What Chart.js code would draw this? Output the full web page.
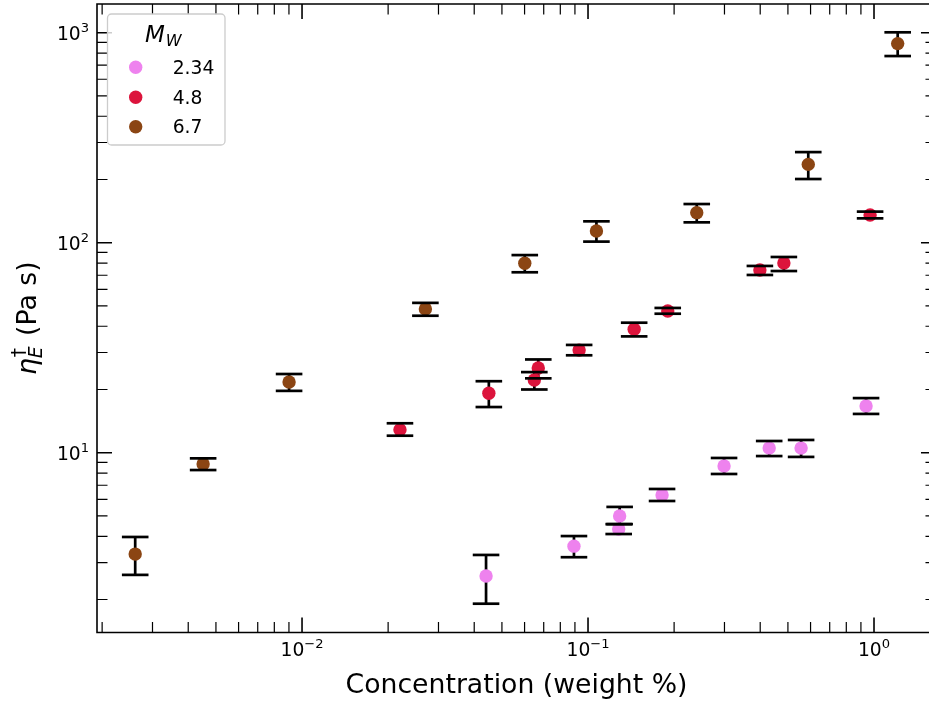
<!DOCTYPE html>
<html><head><meta charset="utf-8">
<script src="https://cdn.jsdelivr.net/npm/chart.js@4.4.1/dist/chart.umd.min.js"></script>
<style>html,body{margin:0;padding:0;overflow:hidden;background:#fff}canvas{display:block}</style>
</head><body><canvas id="c" width="929" height="702"></canvas>
<script>
// ---- data ----
const seriesLabels = ['2.34', '4.8', '6.7'];
const seriesColors = ['#ee82ee', '#dc143c', '#8b4513'];

// Mw = 2.34
const conc234 = [0.0440, 0.0893, 0.129, 0.128, 0.1815, 0.299, 0.430, 0.556, 0.938];
const visc234 = [2.59, 3.59, 5.00, 4.33, 6.29, 8.64, 10.52, 10.52, 16.7];
const lo234   = [1.91, 3.18, 4.57, 4.10, 5.89, 7.92, 9.64, 9.55, 15.3];
const hi234   = [3.26, 4.01, 5.52, 4.57, 6.72, 9.44, 11.37, 11.5, 18.2];

// Mw = 4.8
const conc48 = [0.0220, 0.0450, 0.0649, 0.0670, 0.0931, 0.145, 0.190, 0.399, 0.484, 0.969];
const visc48 = [12.87, 19.19, 22.2, 25.3, 30.8, 38.7, 47.3, 74.1, 80.0, 135.5];
const lo48   = [12.05, 16.5, 20.0, 22.6, 29.1, 35.8, 45.9, 70.2, 73.3, 130.6];
const hi48   = [13.81, 21.9, 24.2, 27.8, 32.6, 41.6, 48.9, 77.5, 85.5, 140.6];

// Mw = 6.7
const conc67 = [0.00261, 0.00451, 0.00901, 0.0270, 0.0601, 0.107, 0.240, 0.589, 1.21];
const visc67 = [3.29, 8.83, 21.7, 48.3, 79.8, 113.7, 139, 236, 887];
const lo67   = [2.62, 8.27, 19.7, 44.9, 72.3, 101.2, 125, 201, 774];
const hi67   = [3.97, 9.40, 23.7, 51.7, 87.3, 126.4, 152.8, 270, 1004];

// axis ticks / limits
const xTickExponents = [-2, -1, 0];
const yTickExponents = [1, 2, 3];
const xLimits = [0.001919, 1.557];   // visible part (figure is cropped on the right)
const xAxisEnd = 1.647;              // where the (cropped) right spine sits
const yLimits = [1.393, 1369.5];

const xTitle = 'Concentration (weight %)';

// ---- chart ----
function pts(xs, ys) { return xs.map((x, i) => ({ x: x, y: ys[i] })); }
const groups = [
  { x: conc234, y: visc234, lo: lo234, hi: hi234 },
  { x: conc48, y: visc48, lo: lo48, hi: hi48 },
  { x: conc67, y: visc67, lo: lo67, hi: hi67 }
];
const datasets = groups.map((g, i) => ({
  label: seriesLabels[i],
  data: pts(g.x, g.y),
  errLow: g.lo, errHigh: g.hi,
  pointRadius: 6.7, pointHoverRadius: 6.7,
  pointBackgroundColor: seriesColors[i], pointBorderWidth: 0,
  borderColor: seriesColors[i], showLine: false
}));

const FONT = '"DejaVu Sans", sans-serif';
const TICK_FS = 18.7, LABEL_FS = 26.7;

function drawPow(ctx, exp, x, y, align) {
  const base = '10';
  const e = exp < 0 ? '\u2212' + Math.abs(exp) : String(exp);
  ctx.font = TICK_FS + 'px ' + FONT;
  const wb = ctx.measureText(base).width;
  ctx.font = (TICK_FS * 0.7) + 'px ' + FONT;
  const we = ctx.measureText(e).width;
  const total = wb + we;
  let sx = align === 'right' ? x - total : x - total / 2;
  ctx.textAlign = 'left'; ctx.textBaseline = 'alphabetic';
  ctx.font = TICK_FS + 'px ' + FONT;
  ctx.fillText(base, sx, y);
  ctx.font = (TICK_FS * 0.7) + 'px ' + FONT;
  ctx.fillText(e, sx + wb, y - 8);
}

const errPlugin = {
  id: 'errbars',
  beforeDatasetsDraw(chart) {
    const ctx = chart.ctx, xs = chart.scales.x, ys = chart.scales.y;
    ctx.save();
    ctx.strokeStyle = '#000'; ctx.lineWidth = 2.7; ctx.lineCap = 'butt';
    chart.data.datasets.forEach(ds => {
      ds.data.forEach((p, i) => {
        const px = xs.getPixelForValue(p.x);
        ctx.beginPath();
        ctx.moveTo(px, ys.getPixelForValue(ds.errLow[i]));
        ctx.lineTo(px, ys.getPixelForValue(ds.errHigh[i]));
        ctx.stroke();
      });
    });
    ctx.restore();
  },
  afterDatasetsDraw(chart) {
    const ctx = chart.ctx, xs = chart.scales.x, ys = chart.scales.y;
    ctx.save();
    ctx.strokeStyle = '#000'; ctx.lineWidth = 2.7;
    chart.data.datasets.forEach(ds => {
      ds.data.forEach((p, i) => {
        const px = xs.getPixelForValue(p.x);
        [ds.errLow[i], ds.errHigh[i]].forEach(v => {
          const py = ys.getPixelForValue(v);
          ctx.beginPath(); ctx.moveTo(px - 13.3, py); ctx.lineTo(px + 13.3, py); ctx.stroke();
        });
      });
    });
    ctx.restore();
  },
  afterDraw(chart) {
    const ctx = chart.ctx, xs = chart.scales.x, ys = chart.scales.y, a = chart.chartArea;
    const rightEdge = xs.getPixelForValue(xAxisEnd);
    ctx.save();
    // spines (right spine lies outside the cropped picture)
    ctx.strokeStyle = '#000'; ctx.lineWidth = 1.6;
    ctx.beginPath();
    ctx.moveTo(rightEdge, a.top); ctx.lineTo(a.left, a.top); ctx.lineTo(a.left, a.bottom); ctx.lineTo(rightEdge, a.bottom);
    ctx.lineTo(rightEdge, a.top);
    ctx.stroke();
    // ticks
    function ticks(scale, isX, vmin, vmax) {
      const lo = Math.floor(Math.log10(vmin)), hi = Math.ceil(Math.log10(vmax));
      for (let d = lo; d <= hi; d++) {
        for (let m = 1; m <= 9; m++) {
          const v = m * Math.pow(10, d);
          if (v < vmin || v > vmax) continue;
          const major = m === 1;
          const len = major ? 15 : 10.5;
          ctx.lineWidth = major ? 1.6 : 1.2;
          const p = scale.getPixelForValue(v);
          ctx.beginPath();
          if (isX) {
            ctx.moveTo(p, a.bottom); ctx.lineTo(p, a.bottom - len);
            ctx.moveTo(p, a.top); ctx.lineTo(p, a.top + len);
          } else {
            ctx.moveTo(a.left, p); ctx.lineTo(a.left + len, p);
            ctx.moveTo(rightEdge, p); ctx.lineTo(rightEdge - len, p);
          }
          ctx.stroke();
        }
      }
    }
    ticks(xs, true, xLimits[0], xAxisEnd); ticks(ys, false, yLimits[0], yLimits[1]);
    // tick labels
    ctx.fillStyle = '#000';
    xTickExponents.forEach(e => drawPow(ctx, e, xs.getPixelForValue(Math.pow(10, e)), 656, 'center'));
    yTickExponents.forEach(e => drawPow(ctx, e, 89, ys.getPixelForValue(Math.pow(10, e)) + 7, 'right'));
    // x title (centred on the full axis, including the cropped part)
    ctx.font = LABEL_FS + 'px ' + FONT;
    ctx.textAlign = 'center'; ctx.textBaseline = 'alphabetic';
    ctx.fillText(xTitle, (a.left + rightEdge) / 2, 693);
    // y title: eta_E^dagger (Pa s)
    ctx.save();
    ctx.translate(36, (a.top + a.bottom) / 2);
    ctx.rotate(-Math.PI / 2);
    ctx.textAlign = 'left';
    const fItal = 'italic ' + LABEL_FS + 'px ' + FONT;
    const fSub = 'italic ' + (LABEL_FS * 0.7) + 'px ' + FONT;
    const fSup = (LABEL_FS * 0.7) + 'px ' + FONT;
    const fReg = LABEL_FS + 'px ' + FONT;
    ctx.font = fItal; const wEta = ctx.measureText('\u03b7').width;
    ctx.font = fSub; const wE = ctx.measureText('E').width;
    ctx.font = fSup; const wD = ctx.measureText('\u2020').width;
    const wSS = Math.max(wE, wD) + 2;
    ctx.font = fReg; const wRest = ctx.measureText(' (Pa s)').width;
    let sx = -(wEta + wSS + wRest) / 2;
    ctx.font = fItal; ctx.fillText('\u03b7', sx, 0); sx += wEta;
    ctx.font = fSub; ctx.fillText('E', sx, 6);
    ctx.font = fSup; ctx.fillText('\u2020', sx + 1, -11);
    sx += wSS;
    ctx.font = fReg; ctx.fillText(' (Pa s)', sx, 0);
    ctx.restore();
    // legend
    const lx = 107.5, ly = 14, lw = 117.5, lh = 131, r = 4;
    ctx.beginPath();
    ctx.moveTo(lx + r, ly); ctx.lineTo(lx + lw - r, ly); ctx.arcTo(lx + lw, ly, lx + lw, ly + r, r);
    ctx.lineTo(lx + lw, ly + lh - r); ctx.arcTo(lx + lw, ly + lh, lx + lw - r, ly + lh, r);
    ctx.lineTo(lx + r, ly + lh); ctx.arcTo(lx, ly + lh, lx, ly + lh - r, r);
    ctx.lineTo(lx, ly + r); ctx.arcTo(lx, ly, lx + r, ly, r); ctx.closePath();
    ctx.fillStyle = 'rgba(255,255,255,0.8)'; ctx.fill();
    ctx.strokeStyle = '#cccccc'; ctx.lineWidth = 1.3; ctx.stroke();
    ctx.fillStyle = '#000';
    ctx.font = 'italic 23px ' + FONT; ctx.textAlign = 'left';
    ctx.fillText('M', 145, 41.7);
    const wM = ctx.measureText('M').width;
    ctx.font = 'italic 16px ' + FONT;
    ctx.fillText('W', 145 + wM + 1, 46);
    const rowY = [67.3, 97.3, 126.7];
    seriesLabels.forEach((lab, i) => {
      ctx.beginPath(); ctx.arc(135.7, rowY[i], 6.7, 0, Math.PI * 2);
      ctx.fillStyle = seriesColors[i]; ctx.fill();
      ctx.fillStyle = '#000'; ctx.font = TICK_FS + 'px ' + FONT;
      ctx.fillText(lab, 172.7, rowY[i] + 6.7);
    });
    ctx.restore();
  }
};

new Chart(document.getElementById('c'), {
  type: 'scatter',
  data: { datasets: datasets },
  options: {
    responsive: false, animation: false, devicePixelRatio: 1,
    layout: { autoPadding: false, padding: { left: 0, top: 4, right: 0, bottom: 0 } },
    plugins: { legend: { display: false }, tooltip: { enabled: false } },
    scales: {
      x: { type: 'logarithmic', position: 'bottom', min: xLimits[0], max: xLimits[1],
           ticks: { display: false }, grid: { display: false }, border: { display: false },
           afterFit(s) { s.height = 69.5; } },
      y: { type: 'logarithmic', position: 'left', min: yLimits[0], max: yLimits[1],
           ticks: { display: false }, grid: { display: false }, border: { display: false },
           afterFit(s) { s.width = 97; } }
    }
  },
  plugins: [errPlugin]
});
</script></body></html>
